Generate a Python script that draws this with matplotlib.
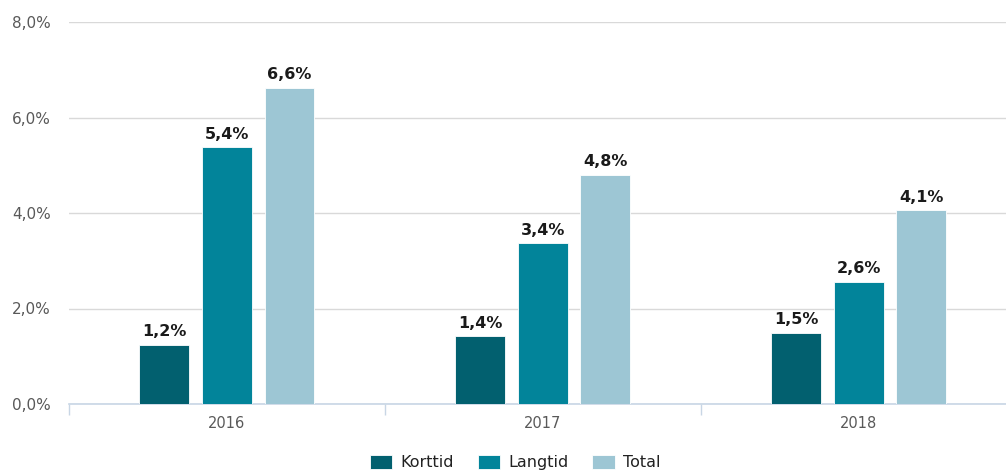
import matplotlib.pyplot as plt
import numpy as np

plt.rcParams["font.family"] = "DejaVu Sans"

years = ["2016", "2017", "2018"]
series = ["Korttid", "Langtid", "Total"]
korttid = [1.24, 1.42, 1.49]
langtid = [5.38, 3.37, 2.56]
total = [6.62, 4.80, 4.06]
colors = ["#02606f", "#02849a", "#9dc6d4"]
yticks = [0, 2, 4, 6, 8]

fig = plt.figure(figsize=(10.06, 4.75), dpi=100)
ax = fig.add_axes([69 / 1006, 1 - 404 / 475, (1006 - 69) / 1006, (404 - 22) / 475])

x = np.arange(len(years))
width = 0.158
offsets = [-0.198, 0.0, 0.198]
for vals, name, col, off in zip([korttid, langtid, total], series, colors, offsets):
    bars = ax.bar(x + off, vals, width, color=col, label=name, zorder=3,
                  edgecolor="white", linewidth=0.6)
    for b, v in zip(bars, vals):
        ax.annotate(f"{v:.1f}%".replace(".", ","),
                    (b.get_x() + b.get_width() / 2, v),
                    xytext=(0, 4), textcoords="offset points",
                    ha="center", va="bottom", fontsize=11.5, fontweight="bold",
                    color="#1a1a1a")

ax.set_xlim(-0.5, 2.466)
ax.set_ylim(0, 8)
ax.set_yticks(yticks)
ax.set_yticklabels([f"{t:.1f}%".replace(".", ",") for t in yticks])
ax.yaxis.grid(True, color="#d9d9d9", linewidth=1, zorder=0)
ax.tick_params(axis="y", length=0, pad=13, labelsize=11, labelcolor="#595959")

ax.set_xticks(x)
ax.set_xticklabels(years)
ax.tick_params(axis="x", length=0, pad=9, labelsize=10.5, labelcolor="#595959")
ax.set_xticks([-0.5, 0.5, 1.5], minor=True)
ax.tick_params(axis="x", which="minor", length=8, width=1, color="#c8d6e5")

for s in ["top", "right", "left"]:
    ax.spines[s].set_visible(False)
ax.spines["bottom"].set_color("#c8d6e5")
ax.spines["bottom"].set_linewidth(1.2)

fig.legend(loc="lower center", bbox_to_anchor=(0.512, -0.02), ncol=3, frameon=False,
           fontsize=11.5, handlelength=1.4, handleheight=1.0, columnspacing=1.5,
           handletextpad=0.5, labelcolor="#222222")

fig.savefig("out.png", dpi=100)
